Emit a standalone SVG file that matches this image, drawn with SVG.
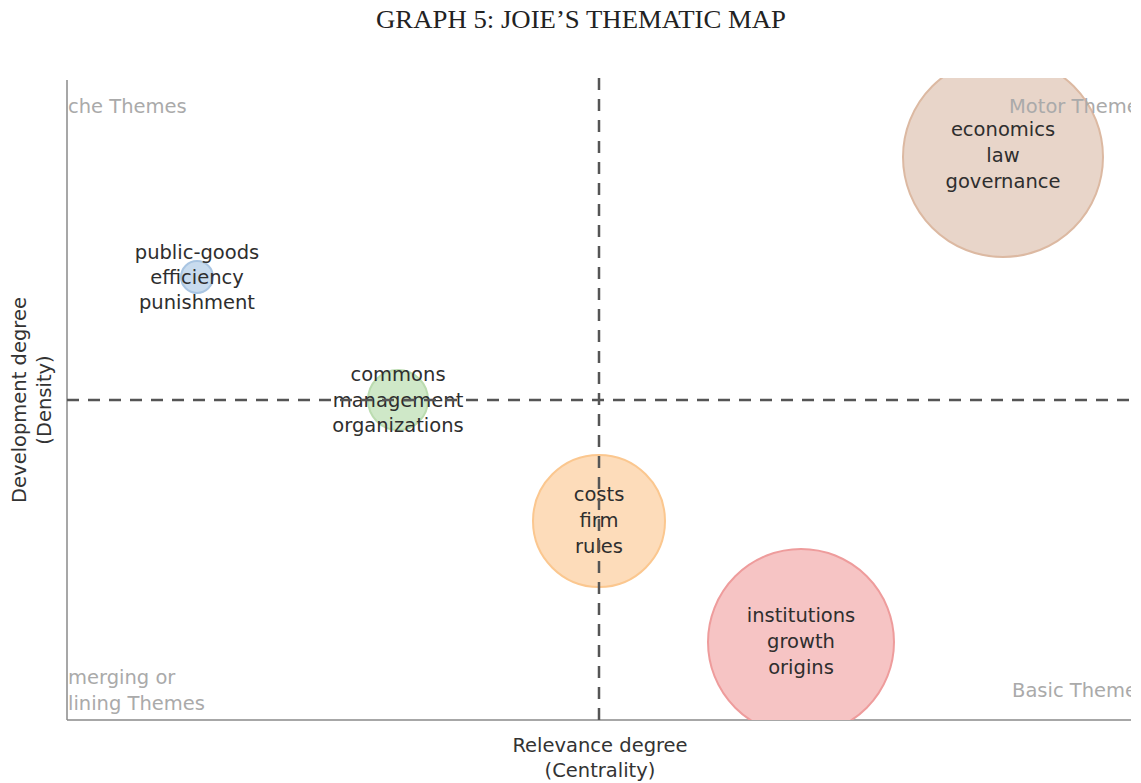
<svg xmlns="http://www.w3.org/2000/svg" width="1141" height="783" viewBox="0 0 1141 783">
  <defs>
    <clipPath id="plot-area">
      <rect x="67" y="78" width="1064" height="642"/>
    </clipPath>
    <style>
      .title { font-family: "Liberation Serif", "Times New Roman", serif; font-size: 25px; fill: #222; }
      .axis-label { font-family: "DejaVu Sans", Verdana, sans-serif; font-size: 19.5px; fill: #333; text-anchor: middle; }
      .quadrant { font-family: "DejaVu Sans", Verdana, sans-serif; font-size: 19.5px; fill: #aaaaaa; }
      .label { font-family: "DejaVu Sans", Verdana, sans-serif; font-size: 19.5px; fill: #2e2e2e; text-anchor: middle; }
      .axis { stroke: #8a8a8a; stroke-width: 1.5; fill: none; }
      .divider { stroke: #555; stroke-width: 2.5; stroke-dasharray: 12 9; fill: none; }
      .bubble { stroke-width: 2; }
    </style>
  </defs>

  <rect width="1141" height="783" fill="#ffffff"/>

  <text class="title" x="581" y="28" text-anchor="middle" textLength="410" lengthAdjust="spacingAndGlyphs">GRAPH 5: JOIE’S THEMATIC MAP</text>

  <!-- axes -->
  <g id="axes">
    <line class="axis" x1="67" y1="80" x2="67" y2="720"/>
    <line class="axis" x1="67" y1="720" x2="1131" y2="720"/>
    <text class="axis-label" x="600" y="752">Relevance degree</text>
    <text class="axis-label" x="600" y="777">(Centrality)</text>
    <text class="axis-label" transform="translate(26,400) rotate(-90)">Development degree</text>
    <text class="axis-label" transform="translate(51,400) rotate(-90)">(Density)</text>
  </g>

  <!-- theme bubbles -->
  <g clip-path="url(#plot-area)">
    <g id="node-economics">
      <circle class="bubble" cx="1003" cy="157" r="100" fill="#e8d5c9" stroke="#dcb9a2"/>
      <text class="label" x="1003" y="136">economics</text>
      <text class="label" x="1003" y="162">law</text>
      <text class="label" x="1003" y="188">governance</text>
    </g>
    <g id="node-public-goods">
      <circle class="bubble" cx="197" cy="277" r="16" fill="#c8dbee" stroke="#a9c5e2"/>
      <text class="label" x="197" y="259">public-goods</text>
      <text class="label" x="197" y="284">efficiency</text>
      <text class="label" x="197" y="309">punishment</text>
    </g>
    <g id="node-commons">
      <circle class="bubble" cx="398" cy="400" r="30" fill="#cfe8c8" stroke="#bbdcb0"/>
      <text class="label" x="398" y="381">commons</text>
      <text class="label" x="398" y="407">management</text>
      <text class="label" x="398" y="432">organizations</text>
    </g>
    <g id="node-costs">
      <circle class="bubble" cx="599" cy="521" r="66" fill="#fddcba" stroke="#fbc78f"/>
      <text class="label" x="599" y="501">costs</text>
      <text class="label" x="599" y="527">firm</text>
      <text class="label" x="599" y="553">rules</text>
    </g>
    <g id="node-institutions">
      <circle class="bubble" cx="801" cy="642" r="93" fill="#f6c4c4" stroke="#ee9c9c"/>
      <text class="label" x="801" y="622">institutions</text>
      <text class="label" x="801" y="648">growth</text>
      <text class="label" x="801" y="674">origins</text>
    </g>
  </g>

  <!-- quadrant names -->
  <g id="quadrants" clip-path="url(#plot-area)">
    <text class="quadrant" x="68" y="113">che Themes</text>
    <text class="quadrant" x="1009" y="113">Motor Theme</text>
    <text class="quadrant" x="68" y="684">merging or</text>
    <text class="quadrant" x="68" y="710">lining Themes</text>
    <text class="quadrant" x="1012" y="697">Basic Theme</text>
  </g>

  <!-- quadrant dividers -->
  <g id="connectors">
    <line class="divider" x1="599" y1="78" x2="599" y2="720"/>
    <line class="divider" x1="67" y1="400" x2="1131" y2="400"/>
  </g>
</svg>
